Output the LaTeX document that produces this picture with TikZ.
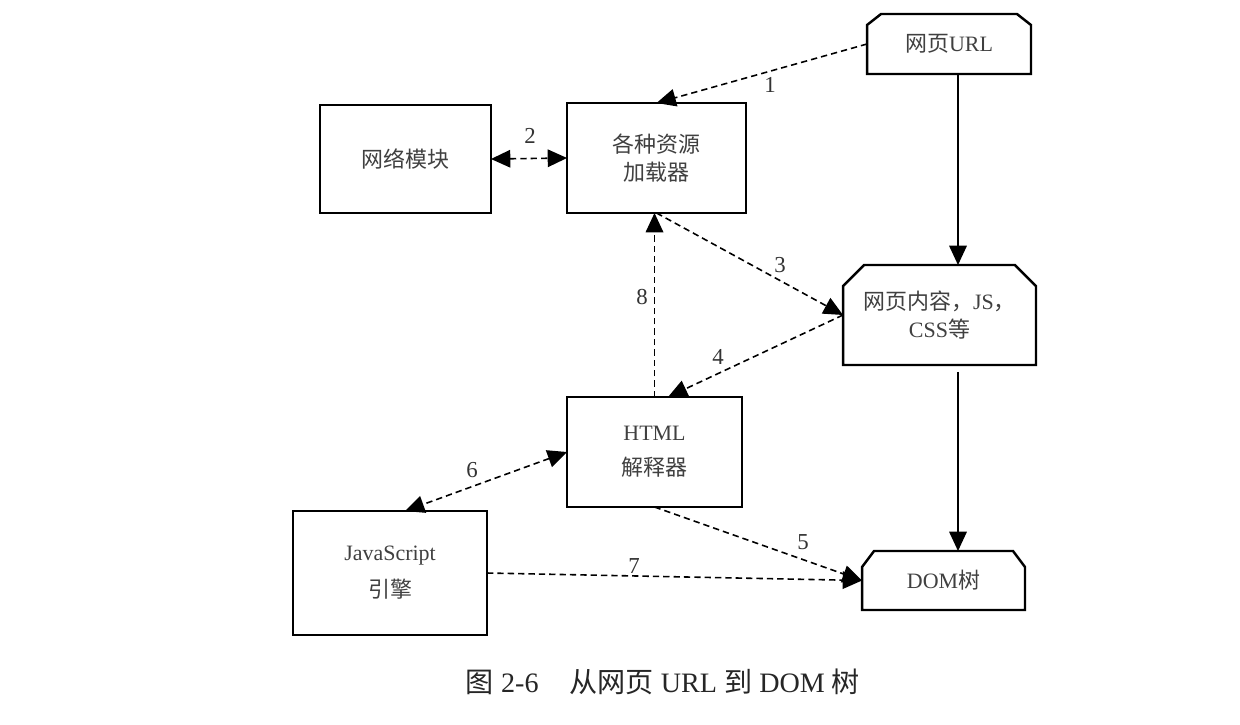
\documentclass[tikz,border=0pt]{standalone}
\usepackage{fontspec}
\setmainfont{Liberation Serif}
\newfontfamily\cjk{Noto Sans CJK SC}
\usetikzlibrary{arrows.meta,calc}
\newcommand\chamfbox[3]{\draw[boxline] (#1.south west) -- ($(#1.north west)+(0,-#3)$) -- ($(#1.north west)+(#2,0)$) -- ($(#1.north east)+(-#2,0)$) -- ($(#1.north east)+(0,-#3)$) -- (#1.south east) -- cycle;}
\begin{document}
\begin{tikzpicture}[x=0.02cm,y=-0.02cm,
  boxline/.style={draw=black, line width=1.4pt},
  boxtxt/.style={inner sep=0pt, outer sep=0pt, align=center, text=black!75, font=\fontsize{12.5}{16}\selectfont},
  rbox/.style={boxtxt, boxline},
  cbox/.style={boxtxt, draw=none},
  conn/.style={dash pattern=on 3.6pt off 2.3pt, line width=0.9pt, -{Triangle[length=11pt,width=10pt]}},
  bconn/.style={conn, {Triangle[length=11pt,width=10pt]}-{Triangle[length=11pt,width=10pt]}},
  sconn/.style={line width=0.85pt, -{Triangle[length=11pt,width=10pt]}},
  lbl/.style={inner sep=0pt, text=black!80, font=\fontsize{13}{13}\selectfont}
]
\useasboundingbox[fill=white] (0,0) rectangle (1240,724);

% boxes
\node[rbox, minimum width=3.42cm, minimum height=2.16cm] (net) at (405.5,159) {{\cjk 网络模块}};
\node[rbox, minimum width=3.58cm, minimum height=2.2cm] (load) at (656.5,158) {{\cjk 各种资源}\\{\cjk 加载器}};
\node[rbox, minimum width=3.5cm, minimum height=2.2cm, font=\fontsize{12.5}{20}\selectfont] (html) at (654.5,452) {HTML\\{\cjk 解释器}};
\node[rbox, minimum width=3.88cm, minimum height=2.48cm, font=\fontsize{12.5}{21}\selectfont] (js) at (390,573) {JavaScript\\{\cjk 引擎}};

\node[cbox, minimum width=3.28cm, minimum height=1.2cm] (url) at (949,44) {{\cjk 网页}URL};
\chamfbox{url}{0.28cm}{0.22cm}
\node[cbox, minimum width=3.86cm, minimum height=2.0cm] (cont) at (939.5,315) {{\cjk 网页内容，}JS{\cjk ，}\\CSS{\cjk 等}};
\chamfbox{cont}{0.42cm}{0.42cm}
\node[cbox, minimum width=3.26cm, minimum height=1.18cm] (dom) at (943.5,580.5) {DOM{\cjk 树}};
\chamfbox{dom}{0.24cm}{0.32cm}

\coordinate (vx) at (958,0);

% connectors
\draw[conn] (url.west) -- (load.north);
\draw[bconn] (net.east) -- (load.west);
\draw[sconn] (url.south -| vx) -- (cont.north -| vx);
\draw[sconn] ($(cont.south -| vx)+(0,-0.14cm)$) -- (dom.north -| vx);
\draw[conn] (load.south) -- (cont.west);
\draw[conn] (cont.west) -- ($(html.north)+(0.27cm,0)$);
\draw[conn] (html.north) -- (html.north |- load.south);
\draw[bconn] (html.west) -- ($(js.north)+(0.3cm,0)$);
\draw[conn] (html.south) -- (dom.west);
\draw[conn] (js.east) -- (dom.west);

% labels
\node[lbl] (l1) at (770,85) {1};
\node[lbl] (l2) at (530,136) {2};
\node[lbl] (l3) at (780,265) {3};
\node[lbl] (l4) at (718,357) {4};
\node[lbl] (l5) at (803,542) {5};
\node[lbl] (l6) at (472,470) {6};
\node[lbl] (l7) at (634,566) {7};
\node[lbl] (l8) at (642,297) {8};

\node[inner sep=0pt, text=black!85, font=\fontsize{16}{16}\selectfont] (cap) at (663,682) {{\cjk 图} 2-6\hspace{1.1em}{\cjk 从网页} URL {\cjk 到} DOM {\cjk 树}};
\end{tikzpicture}
\end{document}
